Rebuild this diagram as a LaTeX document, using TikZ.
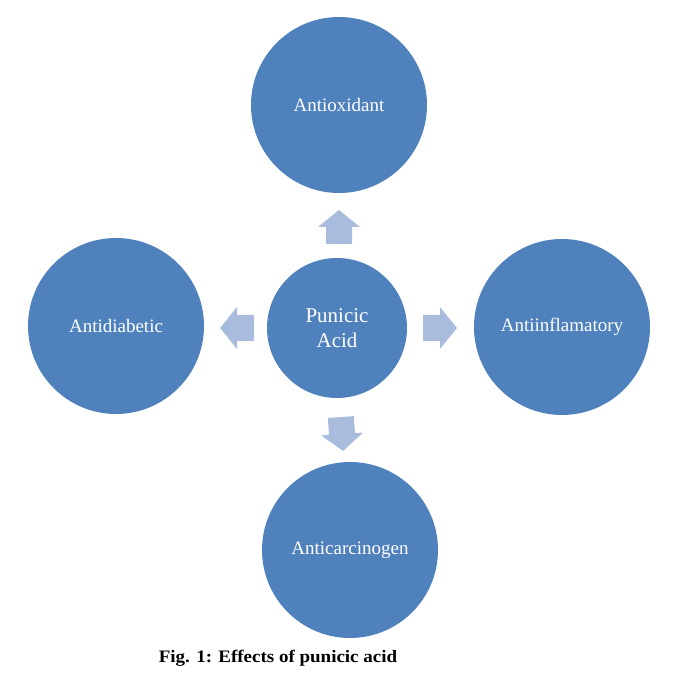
\documentclass[tikz,border=0pt]{standalone}
\usepackage{fontspec}
\setmainfont{Liberation Serif}
\usetikzlibrary{positioning}

\definecolor{effectblue}{HTML}{4F81BD}
\definecolor{arrowblue}{HTML}{A9BCDD}

\begin{document}
\begin{tikzpicture}[
  x=1pt, y=1pt,
  effect/.style={circle, fill=effectblue, text=white, minimum size=176pt, inner sep=0pt, font=\fontsize{19}{21}\selectfont},
  acid/.style={effect, minimum size=140pt, align=center, font=\fontsize{21}{25}\selectfont},
  caption/.style={font=\bfseries\fontsize{17.5}{20}\selectfont},
  blockarrow/.pic={\fill[arrowblue] (-17,-13) -- (0,-13) -- (0,-21) -- (17,0) -- (0,21) -- (0,13) -- (-17,13) -- cycle;}
]
\useasboundingbox (0,0) rectangle (678,673);

\node[acid] (pa) at (337,345) {Punicic\\Acid};
\node[effect] (ox) at (339,568) {Antioxidant};
\node[effect] (infl) at (562,346) {Antiinflamatory};
\node[effect] (carc) at (350,123) {Anticarcinogen};
\node[effect] (diab) at (116,347) {Antidiabetic};

\pic[rotate=90] at (339,446) {blockarrow};
\pic at (440,345) {blockarrow};
\pic[rotate=-86] at (342,239) {blockarrow};
\pic[rotate=180] at (237,345) {blockarrow};

\node[caption] (cap) at (278,15) {\scalebox{1.085}[1]{Fig. 1: Effects of punicic acid}};
\end{tikzpicture}
\end{document}
